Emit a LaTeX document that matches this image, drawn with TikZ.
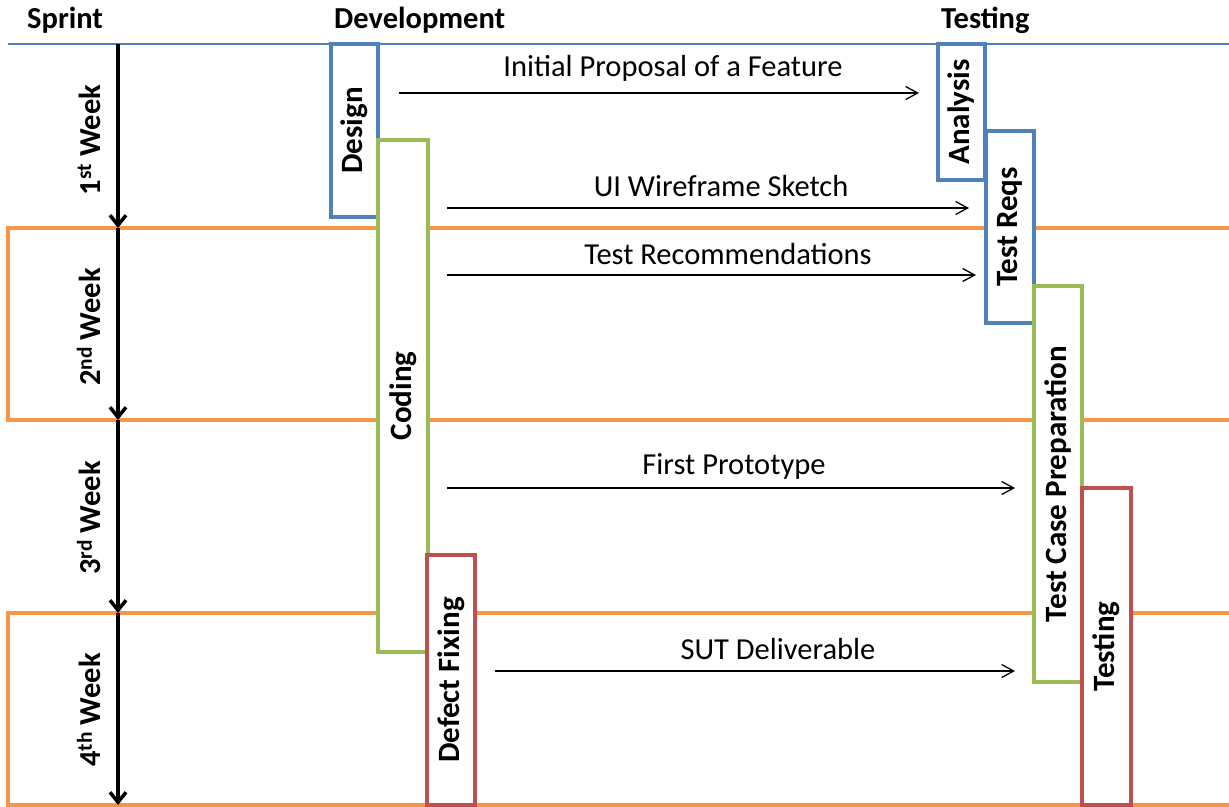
\documentclass[tikz,border=0pt]{standalone}
\usepackage{fontspec}
\setmainfont{Carlito}
\usetikzlibrary{arrows.meta}
\definecolor{cblue}{HTML}{4F81BD}
\definecolor{cgreen}{HTML}{9BBB59}
\definecolor{cred}{HTML}{C0504D}
\definecolor{corange}{HTML}{F79646}
\begin{document}
\begin{tikzpicture}[x=1pt,y=-1pt,
  phase/.style={draw, fill=white, line width=3.2pt, rotate=90, inner sep=0pt,
    font=\bfseries\fontsize{31}{35}\selectfont, anchor=center},
  msg/.style={-{Straight Barb[length=12pt,width=13pt]}, line width=1.3pt},
  weekarrow/.style={-{Straight Barb[length=10pt,width=16pt]}, line width=3.5pt},
  weeklbl/.style={rotate=90, font=\bfseries\fontsize{30.5}{35}\selectfont, inner sep=0pt},
  header/.style={font=\bfseries\fontsize{30.5}{35}\selectfont, inner sep=0pt, anchor=west},
  msglbl/.style={font=\fontsize{30.5}{35}\selectfont, inner sep=0pt},
  band/.style={draw=corange, line width=3.5pt},
]
\useasboundingbox (0,0) rectangle (1229,806);
% headers
\node[header] (hsprint) at (27,20) {Sprint};
\node[header] (hdev) at (334,20) {Development};
\node[header] (htest) at (941,20) {Testing};
% top line
\draw[cblue, line width=1.3pt] (8,44) -- (1229,44);
% week bands
\draw[band] (1229,228) -- (8,228) -- (8,420) -- (1229,420);
\draw[band] (1229,613) -- (8,613) -- (8,805) -- (1229,805);
% phase boxes
\node[phase, draw=cblue, minimum width=173pt, minimum height=47pt] (design) at (354.5,130.5) {Design};
\node[phase, draw=cgreen, minimum width=512pt, minimum height=50pt] (coding) at (403,396) {Coding};
\node[phase, draw=cred, minimum width=250pt, minimum height=48pt] (defect) at (451,680) {Defect Fixing};
\node[phase, draw=cblue, minimum width=136pt, minimum height=47pt] (analysis) at (961.5,112) {Analysis};
\node[phase, draw=cblue, minimum width=192pt, minimum height=48pt] (testreqs) at (1010,227) {Test Reqs};
\node[phase, draw=cgreen, minimum width=396pt, minimum height=48pt] (tcp) at (1058,484) {Test Case Preparation};
\node[phase, draw=cred, minimum width=317pt, minimum height=49pt] (testing) at (1106.5,646.5) {Testing};
% week arrows
\coordinate (w0) at (118,44);
\coordinate (w1) at (118,228);
\coordinate (w2) at (118,420);
\coordinate (w3) at (118,613);
\coordinate (w4) at (118,805);
\draw[weekarrow] (w0) -- (w1);
\draw[weekarrow] (w1) -- (w2);
\draw[weekarrow] (w2) -- (w3);
\draw[weekarrow] (w3) -- (w4);
\node[weeklbl] (wk1) at (89,140) {1\textsuperscript{st} Week};
\node[weeklbl] (wk2) at (89,327) {2\textsuperscript{nd} Week};
\node[weeklbl] (wk3) at (89,518) {3\textsuperscript{rd} Week};
\node[weeklbl] (wk4) at (89,710) {4\textsuperscript{th} Week};
% messages
\coordinate (m1s) at (399,93);  \coordinate (m1e) at (919,93);
\coordinate (m2s) at (447,208); \coordinate (m2e) at (969,208);
\coordinate (m3s) at (447,275); \coordinate (m3e) at (976,275);
\coordinate (m4s) at (447,488); \coordinate (m4e) at (1015,488);
\coordinate (m5s) at (495,671); \coordinate (m5e) at (1015,671);
\draw[msg] (m1s) -- (m1e);
\draw[msg] (m2s) -- (m2e);
\draw[msg] (m3s) -- (m3e);
\draw[msg] (m4s) -- (m4e);
\draw[msg] (m5s) -- (m5e);
\node[msglbl] (l1) at (673,68) {Initial Proposal of a Feature};
\node[msglbl] (l2) at (721,186) {UI Wireframe Sketch};
\node[msglbl] (l3) at (728,254) {Test Recommendations};
\node[msglbl] (l4) at (734,466) {First Prototype};
\node[msglbl] (l5) at (778,649) {SUT Deliverable};
\end{tikzpicture}
\end{document}
